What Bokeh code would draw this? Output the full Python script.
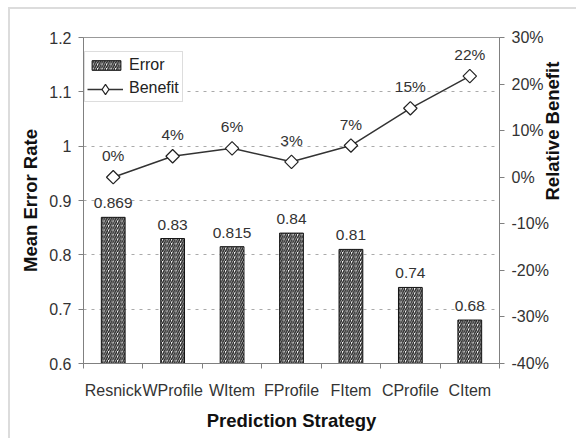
from bokeh.plotting import figure
from bokeh.models import (Range1d, LinearAxis, FixedTicker, ColumnDataSource, LabelSet,
                          Legend, LegendItem, PrintfTickFormatter, CustomJSTickFormatter)
from bokeh.core.properties import value
from bokeh.embed import file_html
from bokeh.resources import INLINE

# ---- data ----
categories = ["Resnick", "WProfile", "WItem", "FProfile", "FItem", "CProfile", "CItem"]
error_rate = [0.869, 0.83, 0.815, 0.84, 0.81, 0.74, 0.68]
benefit_pct = [0.0, 4.5, 6.2, 3.3, 6.8, 14.8, 21.7]
left_ticks = [0.6, 0.7, 0.8, 0.9, 1.0, 1.1, 1.2]
right_ticks = [-40, -30, -20, -10, 0, 10, 20, 30]

FONT = "Liberation Sans"

xs = [i + 0.5 for i in range(len(categories))]
src = ColumnDataSource(dict(
    x=xs, err=error_rate, ben=benefit_pct,
    err_lbl=[str(v) for v in error_rate],
    ben_lbl=["%.0f%%" % v for v in benefit_pct],
))

p = figure(width=576, height=438, output_backend="svg", toolbar_location=None,
           x_range=Range1d(0, len(categories)), y_range=Range1d(left_ticks[0], left_ticks[-1]),
           min_border_left=83, min_border_right=74, min_border_top=37, min_border_bottom=75)
p.extra_y_ranges = {"ben": Range1d(right_ticks[0], right_ticks[-1])}
p.background_fill_color = "white"
p.border_fill_alpha = 0
p.styles = {"background": "linear-gradient(#dcdcdc, #dcdcdc) 8px 7px / 2px 100% no-repeat, "
                          "linear-gradient(#dcdcdc, #dcdcdc) 8px 7px / 100% 2px no-repeat, white"}
p.outline_line_color = "#999999"

# x axis
xa = p.xaxis[0]
xa.ticker = FixedTicker(ticks=xs, minor_ticks=list(range(len(categories) + 1)))
xa.major_label_overrides = {x: c for x, c in zip(xs, categories)}
xa.major_tick_out = 0
xa.major_tick_in = 0
xa.major_tick_line_color = None
xa.minor_tick_out = 5
xa.minor_tick_in = 0
xa.minor_tick_line_color = "#808080"
xa.axis_line_color = "#808080"
xa.major_label_standoff = 13
xa.major_label_text_font = FONT
xa.major_label_text_font_size = "16px"
xa.major_label_text_color = "#333333"
xa.axis_label = "Prediction Strategy"
xa.axis_label_text_font = FONT
xa.axis_label_text_font_size = "18.5px"
xa.axis_label_text_font_style = "bold"
xa.axis_label_text_color = "#111111"
xa.axis_label_standoff = 8

# left axis
ya = p.yaxis[0]
ya.ticker = FixedTicker(ticks=left_ticks)
ya.formatter = CustomJSTickFormatter(code="return tick.toFixed(1).replace(/\\.0$/, '');")
ya.major_tick_out = 5
ya.major_tick_in = 0
ya.minor_tick_line_color = None
ya.major_tick_line_color = "#808080"
ya.axis_line_color = "#808080"
ya.major_label_standoff = 7
ya.major_label_text_font = FONT
ya.major_label_text_font_size = "16px"
ya.major_label_text_color = "#333333"
ya.axis_label = "Mean Error Rate"
ya.axis_label_text_font = FONT
ya.axis_label_text_font_size = "18.5px"
ya.axis_label_text_font_style = "bold"
ya.axis_label_text_color = "#111111"
ya.axis_label_standoff = 5

# right axis
ra = LinearAxis(y_range_name="ben", ticker=FixedTicker(ticks=right_ticks),
                formatter=PrintfTickFormatter(format="%d%%"))
ra.major_tick_out = 5
ra.major_tick_in = 0
ra.minor_tick_line_color = None
ra.major_tick_line_color = "#808080"
ra.axis_line_color = "#808080"
ra.major_label_standoff = 7
ra.major_label_text_font = FONT
ra.major_label_text_font_size = "16px"
ra.major_label_text_color = "#333333"
ra.axis_label = "Relative Benefit"
ra.axis_label_text_font = FONT
ra.axis_label_text_font_size = "18.5px"
ra.axis_label_text_font_style = "bold"
ra.axis_label_text_color = "#111111"
ra.axis_label_standoff = 1
if "axis_label_orientation" in ra.properties():
    ra.axis_label_orientation = 1.5707963
p.add_layout(ra, "right")

p.xgrid.visible = False
p.ygrid.ticker = FixedTicker(ticks=left_ticks)
p.ygrid.grid_line_color = "#aaaaaa"
p.ygrid.grid_line_dash = "3 5"

# bars
bars = p.vbar(x="x", top="err", bottom=left_ticks[0], width=0.4, source=src,
              fill_color="white", line_color="#111111", line_width=1,
              hatch_pattern="/", hatch_color="#222222", hatch_scale=4.5, hatch_weight=1.5)

# benefit line
ln = p.line(x="x", y="ben", source=src, y_range_name="ben", line_color="#333333", line_width=1.5)
ln_ghost = p.line(x="x", y="ben", source=src, y_range_name="ben", line_alpha=0)
dm = p.scatter(x="x", y="ben", source=src, y_range_name="ben", marker="diamond",
               size=9, fill_color="white", line_color="#222222", line_width=1.2)
mk = p.scatter(x="x", y="ben", source=src, y_range_name="ben", marker="square", angle=0.785398,
               size=9.5, fill_color="white", line_color="#222222", line_width=1.2)

# labels
p.add_layout(LabelSet(x="x", y="err", text="err_lbl", source=src, text_align="center",
                      text_baseline="alphabetic", y_offset=9, text_font=value(FONT),
                      text_font_size="15.5px", text_color="#333333"))
p.add_layout(LabelSet(x="x", y="ben", text="ben_lbl", source=src, y_range_name="ben",
                      text_align="center", text_baseline="alphabetic", y_offset=16,
                      text_font=value(FONT), text_font_size="15.5px", text_color="#333333"))

legend = Legend(items=[LegendItem(label="Error", renderers=[bars]),
                       LegendItem(label="Benefit", renderers=[ln_ghost])],
                location=(1, 261), padding=3, spacing=3, margin=0,
                glyph_width=36, glyph_height=12, label_height=20, label_standoff=5,
                label_text_font=FONT, label_text_font_size="16px", label_text_color="#222222",
                border_line_color="#bbbbbb", background_fill_color="white",
                background_fill_alpha=1.0)
p.add_layout(legend)

legend2 = Legend(items=[LegendItem(label=" ", renderers=[ln, dm])],
                 location=(4, 261), padding=0, spacing=0, margin=0,
                 glyph_width=36, glyph_height=26, label_height=26, label_standoff=0,
                 label_text_font_size="1px", border_line_color=None,
                 background_fill_alpha=0)
p.add_layout(legend2)

open("out.html", "w").write(file_html(p, INLINE))
